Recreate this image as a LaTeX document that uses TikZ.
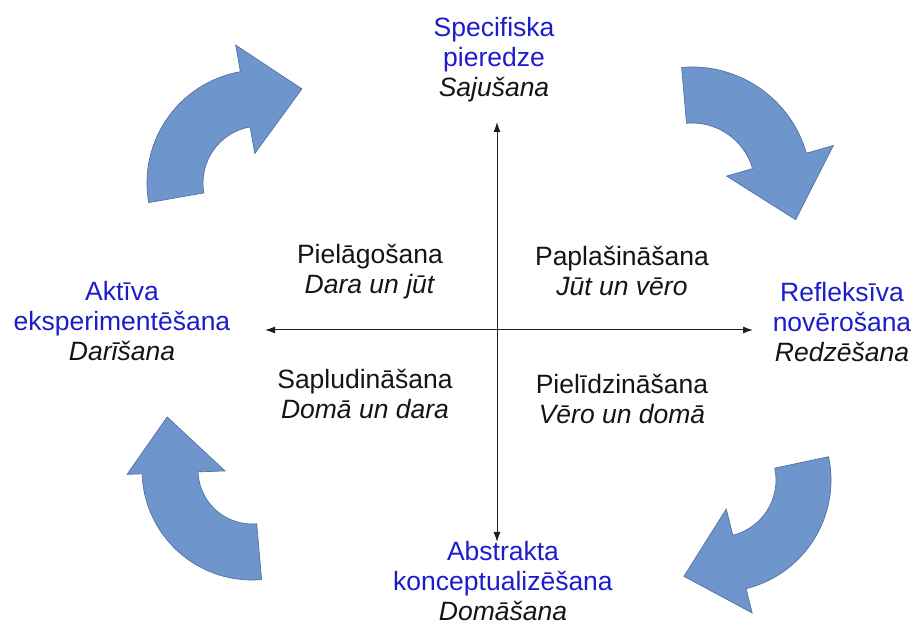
\documentclass[tikz,border=0pt]{standalone}
\usepackage{fontspec}
\setmainfont{Liberation Sans}
\usetikzlibrary{arrows.meta}

\definecolor{modeblue}{RGB}{28,28,204}
\definecolor{textdark}{RGB}{20,20,20}
\definecolor{cyclefill}{RGB}{110,150,205}
\definecolor{cycleedge}{RGB}{82,112,162}
\definecolor{axisgray}{RGB}{30,30,30}

% curved block arrow around centre (#1,#2): outer radius #3, inner radius #4,
% tail at angle #5, running clockwise to the head base at angle #6;
% #7 is how far the outer barb of the head reaches past the outer radius
\newcommand{\cyclearrow}[7]{%
  \begin{scope}[shift={(#1,#2)}]
    \filldraw[cycarrow] (#5:#3) arc[start angle=#5, end angle=#6, radius=#3]
      -- (#6:{#3+#7}) -- ({#6-34}:{(#3+#4)/2+18}) -- (#6:{#4-27}) -- (#6:#4)
      arc[start angle=#6, end angle=#5, radius=#4] -- cycle;
  \end{scope}}

\begin{document}
\begin{tikzpicture}[x=1pt, y=1pt,
  cycarrow/.style={fill=cyclefill, draw=cycleedge, line width=0.7pt, line join=miter},
  axis/.style={draw=axisgray, line width=1pt, {Latex[length=10pt,width=7pt]}-{Latex[length=10pt,width=7pt]}},
  label/.style={align=center, inner sep=0pt, font=\fontsize{26.5}{30}\selectfont, text=textdark},
  mode/.style={label},
  quad/.style={label}]
\useasboundingbox (0,0) rectangle (916,626);

% learning cycle arrows
\cyclearrow{260}{443}{113}{57}{190}{100}{27}
\cyclearrow{692}{440}{119}{63}{95}{16}{28}
\cyclearrow{719}{146}{112}{57}{12}{-76}{25}
\cyclearrow{252}{156}{110}{54}{-85}{-178}{15}

% axes
\coordinate (north) at (497,504);
\coordinate (south) at (497,84);
\coordinate (west) at (265,296);
\coordinate (east) at (753,296);
\draw[axis] (south) -- (north);
\draw[axis] (west) -- (east);

% the four modes
\node[mode] (top) at (494,566) {\textcolor{modeblue}{Specifiska}\\\textcolor{modeblue}{pieredze}\\\textit{Sajušana}};
\node[mode] (right) at (842,304) {\textcolor{modeblue}{Refleksīva}\\\textcolor{modeblue}{novērošana}\\\textit{Redzēšana}};
\node[mode] (bottom) at (503,45) {\textcolor{modeblue}{Abstrakta}\\\textcolor{modeblue}{konceptualizēšana}\\\textit{Domāšana}};
\node[mode] (left) at (122,305) {\textcolor{modeblue}{Aktīva}\\\textcolor{modeblue}{eksperimentēšana}\\\textit{Darīšana}};

% the four quadrants
\node[quad] (q1) at (370,354) {Pielāgošana\\\textit{Dara un jūt}};
\node[quad] (q2) at (622,355) {Paplašināšana\\\textit{Jūt un vēro}};
\node[quad] (q3) at (365,232) {Sapludināšana\\\textit{Domā un dara}};
\node[quad] (q4) at (622,227) {Pielīdzināšana\\\textit{Vēro un domā}};
\end{tikzpicture}
\end{document}
